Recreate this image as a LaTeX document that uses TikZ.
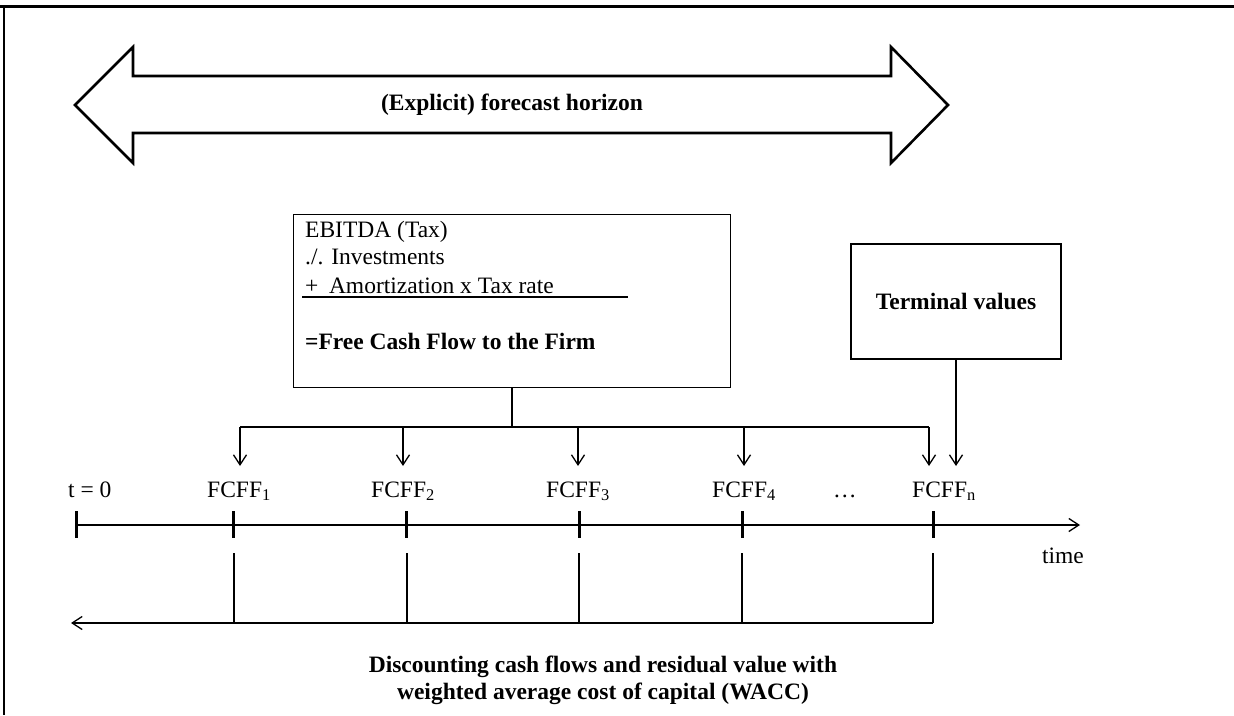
\documentclass[tikz,border=0pt]{standalone}
\usepackage{fontspec}
\setmainfont{Liberation Serif}
\usetikzlibrary{arrows.meta}
\begin{document}
\begin{tikzpicture}[x=1pt,y=-1pt,
  txt/.style={inner sep=0pt,font=\fontsize{23.5}{27}\selectfont},
  btxt/.style={inner sep=0pt,font=\fontsize{23.5}{27}\selectfont\bfseries},
  conn/.style={line width=1.3pt},
  arr/.style={conn,-{Straight Barb[length=10pt,width=13pt,line width=1.3pt]}},
  tickmark/.style={line width=3pt},
  boxed/.style={draw,line width=1.4pt,inner sep=0pt}]
  \useasboundingbox (0,0) rectangle (1234,715);

  % page frame: rule on top, line down the left side
  \draw[line width=3pt] (0,6) -- (1234,6);
  \draw[line width=1.5pt] (4,6) -- (4,715);

  % forecast horizon double arrow
  \draw[line width=2.6pt,line join=miter]
    (75,105) -- (133,47) -- (133,76) -- (891,76) -- (891,47) -- (948,105)
    -- (891,163) -- (891,133) -- (133,133) -- (133,163) -- cycle;
  \node[btxt] (horizon) at (512,105) {(Explicit) forecast horizon};

  % free cash flow derivation
  \node[boxed,anchor=north west,minimum width=437pt,minimum height=173pt] (fcf) at (293,214) {};
  \node[txt,anchor=base west] (e1) at (305,237) {EBITDA (Tax)};
  \node[txt,anchor=base west] (e2) at (305,264) {./. Investments};
  \node[txt,anchor=base west] (e3) at (305,293) {+\hspace{0.45em}Amortization x Tax rate};
  \node[btxt,anchor=base west] (e4) at (305,349) {=Free Cash Flow to the Firm};
  \draw[line width=1.3pt] (302,297) -- (628,297);

  % terminal value box
  \node[boxed,btxt,draw,line width=1.4pt,minimum width=210pt,minimum height=115pt] (term) at (956,301.5) {Terminal values};

  % distribution of the cash flows to each period
  \coordinate (hub) at (fcf.south |- 0,427);
  \coordinate (bl) at (240,427);
  \coordinate (br) at (929,427);
  \draw[line width=2pt] (fcf.south) -- (hub);
  \draw[conn] (bl) -- (br);
  \foreach \x/\n in {240/a1,403/a2,578/a3,744/a4,929/an}{
    \coordinate (\n) at (\x,466);
    \draw[arr] (\x,427) -- (\n);
  }
  \coordinate (aT) at (956,466);
  \draw[arr] (term.south) -- (aT);

  % period labels
  \node[txt,anchor=base west] (l0) at (68,497) {t = 0};
  \node[txt,anchor=base west] (l1) at (207,497) {FCFF\textsubscript{1}};
  \node[txt,anchor=base west] (l2) at (371,497) {FCFF\textsubscript{2}};
  \node[txt,anchor=base west] (l3) at (546,497) {FCFF\textsubscript{3}};
  \node[txt,anchor=base west] (l4) at (712,497) {FCFF\textsubscript{4}};
  \node[txt,anchor=base west] (ld) at (833,497) {…};
  \node[txt,anchor=base west] (ln) at (912,497) {FCFF\textsubscript{n}};

  % time axis with period ticks
  \coordinate (tend) at (1080,525);
  \foreach \x/\n in {76/t0,233/t1,406/t2,579/t3,742/t4,933/tn}
    \coordinate (\n) at (\x,525);
  \draw[arr] (t0) -- (tend);
  \foreach \n in {t0,t1,t2,t3,t4,tn}
    \draw[tickmark] ([yshift=14pt]\n) -- ([yshift=-13pt]\n);
  \node[txt,anchor=base] (time) at (1063,563) {time};

  % discounting back to t = 0
  \coordinate (dend) at (71,623);
  \foreach \x/\n in {234/d1,407/d2,579/d3,742/d4,933/dn}{
    \coordinate (\n) at (\x,623);
    \draw[conn] (\x,553) -- (\n);
  }
  \draw[arr] (dn) -- (dend);
  \node[btxt,align=center,anchor=north] (disc) at (603,656)
    {Discounting cash flows and residual value with\\weighted average cost of capital (WACC)};
\end{tikzpicture}
\end{document}
